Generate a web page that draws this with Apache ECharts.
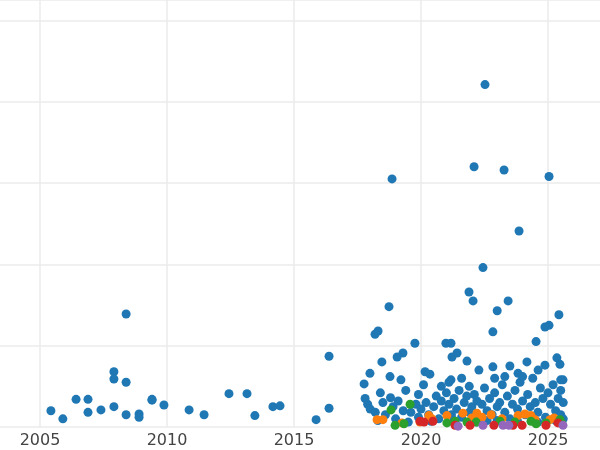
<!DOCTYPE html>
<html>
<head>
<meta charset="utf-8">
<script src="https://cdn.jsdelivr.net/npm/echarts@6/dist/echarts.min.js"></script>
<style>
html,body{margin:0;padding:0;background:#fff;overflow:hidden;width:600px;height:450px}
#chart{position:absolute;left:-87px;top:0;width:762px;height:450px}
</style>
</head>
<body>
<div id="chart"></div>
<script>
// [year, value] pairs per group
var blueData = [
    [2005.43,0.20],[2005.9,0.10],[2006.42,0.34],[2006.89,0.34],[2006.89,0.18],[2007.4,0.21],
    [2007.91,0.25],[2007.91,0.68],[2007.91,0.59],[2008.39,0.55],[2008.39,1.39],[2008.39,0.15],
    [2008.9,0.16],[2008.9,0.12],[2009.41,0.34],[2009.41,0.33],[2009.88,0.27],[2010.87,0.21],
    [2011.46,0.15],[2012.44,0.41],[2013.15,0.41],[2013.46,0.14],[2014.17,0.25],[2014.45,0.26],
    [2015.87,0.09],[2016.38,0.23],[2016.38,0.87],
    [2018.86,3.05],[2022.52,4.21],[2022.09,3.2],[2023.27,3.16],[2025.04,3.08],[2023.86,2.41],
    [2022.44,1.96],[2021.89,1.66],[2022.05,1.55],[2023.43,1.55],[2023.0,1.43],[2018.74,1.48],
    [2025.43,1.38],[2025.04,1.25],[2024.88,1.23],[2018.31,1.18],[2018.19,1.14],[2022.83,1.17],
    [2019.76,1.03],[2024.53,1.05],[2021.18,1.03],[2020.98,1.03],[2021.42,0.91],[2021.22,0.86],
    [2021.81,0.81],[2025.35,0.85],[2018.46,0.8],[2019.29,0.91],[2019.06,0.86],[2025.47,0.77],
    [2024.17,0.8],[2024.88,0.76],[2023.5,0.75],[2022.83,0.74],[2022.28,0.7],[2017.99,0.66],
    [2017.76,0.53],[2018.78,0.62],[2019.21,0.58],[2020.16,0.68],[2020.35,0.65],[2021.18,0.58],
    [2023.82,0.66],[2024.61,0.7],[2025.59,0.58],[2025.5,0.58],
    [2017.8,0.35],[2017.9,0.28],[2018.0,0.22],[2018.2,0.18],[2018.4,0.42],[2018.5,0.3],
    [2018.6,0.15],[2018.8,0.36],[2018.9,0.25],[2019.0,0.1],[2019.1,0.32],[2019.3,0.2],
    [2019.4,0.45],[2019.6,0.18],[2019.8,0.28],[2019.9,0.12],[2020.0,0.22],[2020.1,0.52],
    [2020.2,0.3],[2020.3,0.15],[2020.5,0.25],[2020.6,0.38],[2020.7,0.1],[2020.8,0.32],
    [2020.9,0.2],[2021.0,0.42],[2021.1,0.28],[2021.1,0.55],[2021.2,0.15],[2021.3,0.35],
    [2021.4,0.22],[2021.5,0.45],[2021.6,0.12],[2021.7,0.3],[2021.8,0.38],[2021.9,0.18],
    [2022.0,0.25],[2022.1,0.4],[2022.2,0.32],[2022.3,0.12],[2022.4,0.28],[2022.5,0.48],
    [2022.6,0.2],[2022.7,0.35],[2022.8,0.15],[2022.9,0.42],[2023.0,0.25],[2023.1,0.3],
    [2023.2,0.52],[2023.3,0.18],[2023.4,0.38],[2023.5,0.1],[2023.6,0.28],[2023.7,0.45],
    [2023.8,0.22],[2023.9,0.55],[2024.0,0.32],[2024.1,0.15],[2024.2,0.4],[2024.3,0.25],
    [2024.4,0.6],[2024.5,0.3],[2024.6,0.18],[2024.7,0.48],[2024.8,0.35],[2024.9,0.12],
    [2025.0,0.42],[2025.1,0.28],[2025.2,0.52],[2025.3,0.2],[2025.4,0.35],[2025.5,0.15],
    [2025.6,0.3],[2025.5,0.45],
    [2018.3,0.08],[2019.5,0.06],[2020.4,0.07],[2021.3,0.08],[2022.2,0.06],[2023.0,0.08],
    [2023.8,0.07],[2024.6,0.06],[2025.3,0.08],[2020.8,0.5],[2021.6,0.6],[2022.9,0.6],
    [2024.0,0.62],[2023.3,0.62],[2019.9,0.4],[2021.9,0.5],[2025.6,0.1],[2022.6,0.08]
];
var orangeData = [
    [2018.27,0.09],[2018.5,0.09],[2019.25,0.05],[2019.96,0.06],[2020.31,0.14],[2020.43,0.10],
    [2021.02,0.14],[2021.65,0.17],[2022.0,0.11],[2022.2,0.17],[2022.4,0.12],[2022.76,0.15],
    [2023.19,0.10],[2023.82,0.14],[2024.09,0.16],[2024.33,0.14],[2024.49,0.09],[2025.08,0.09],
    [2025.24,0.11]
];
var greenData = [
    [2018.82,0.21],[2019.57,0.28],[2018.98,0.02],[2019.33,0.04],[2021.02,0.05],[2021.34,0.07],
    [2021.81,0.06],[2022.17,0.06],[2023.11,0.07],[2023.7,0.06],[2024.33,0.07],[2024.53,0.04],
    [2024.92,0.05],[2025.47,0.09],[2025.55,0.04]
];
var redData = [
    [2019.96,0.07],[2020.47,0.07],[2020.12,0.06],[2021.34,0.02],[2021.93,0.02],[2022.87,0.02],
    [2023.62,0.02],[2023.98,0.02],[2024.92,0.02],[2025.39,0.05]
];
var purpleData = [
    [2021.46,0.01],[2022.44,0.02],[2023.23,0.02],[2023.46,0.02],[2025.59,0.02]
];
var colors = ['#1f77b4', '#ff7f0e', '#2ca02c', '#d62728', '#9467bd'];

var chart = echarts.init(document.getElementById('chart'));

function scatter(data) {
    return {type: 'scatter', data: data, symbolSize: 9, itemStyle: {opacity: 1}};
}

chart.setOption({
    animation: false,
    color: colors,
    grid: {left: 0, right: 0, top: 0, bottom: 23, containLabel: false, outerBoundsMode: 'none'},
    xAxis: {
        type: 'value', min: 2000, max: 2030, interval: 5,
        axisLine: {show: false}, axisTick: {show: false},
        axisLabel: {color: '#444', fontSize: 16, fontFamily: 'DejaVu Sans', margin: 6,
            formatter: function (v) { return String(v); }},
        splitLine: {show: true, lineStyle: {color: '#ebebeb', width: 1.5}}
    },
    yAxis: {
        type: 'value', min: 0, max: 5.25, interval: 1,
        axisLine: {show: false}, axisTick: {show: false}, axisLabel: {show: false},
        splitLine: {show: true, lineStyle: {color: '#ebebeb', width: 1.5}}
    },
    series: [scatter(blueData), scatter(orangeData), scatter(greenData), scatter(redData), scatter(purpleData)]
});
</script>
</body>
</html>
